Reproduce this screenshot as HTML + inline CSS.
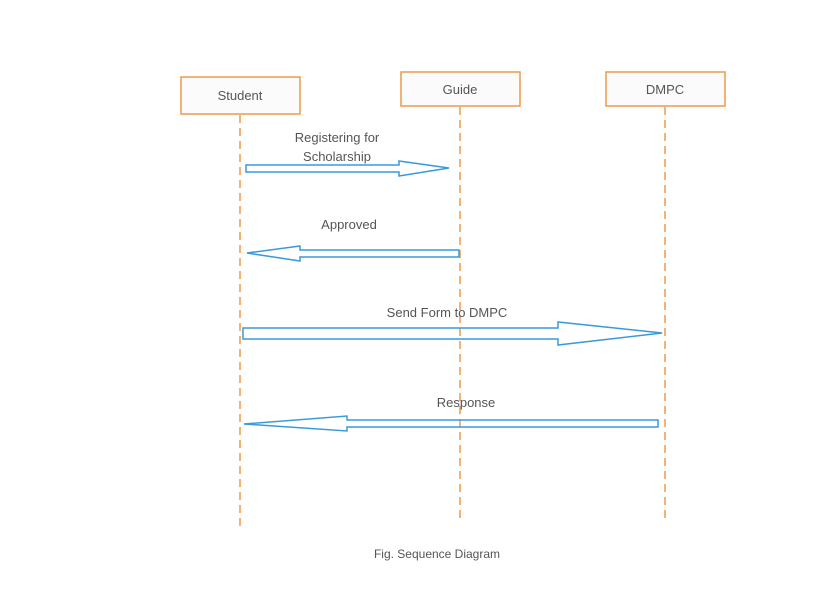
<!DOCTYPE html>
<html><head><style>
body{margin:0;background:#fff;}
svg text{font-family:"Liberation Sans",sans-serif;fill:#555;font-size:13px;}
</style></head><body>
<svg width="836" height="586" viewBox="0 0 836 586" xmlns="http://www.w3.org/2000/svg">
<g stroke="#ef9a4a" stroke-width="1.5" stroke-dasharray="8,5" fill="none">
<line x1="240" y1="115" x2="240" y2="527"/>
<line x1="460" y1="107" x2="460" y2="522"/>
<line x1="665" y1="107" x2="665" y2="522"/>
</g>
<g stroke="#ef9a4a" stroke-width="1.5" fill="#fbfbfb">
<rect x="181" y="77" width="119" height="37"/>
<rect x="401" y="72" width="119" height="34"/>
<rect x="606" y="72" width="119" height="34"/>
</g>
<text x="240" y="100" text-anchor="middle">Student</text>
<text x="460" y="94" text-anchor="middle">Guide</text>
<text x="665" y="94" text-anchor="middle">DMPC</text>
<g stroke="#3a9ad9" stroke-width="1.5" fill="none">
<polygon points="246,165 399,165 399,161 449,168 399,176 399,172 246,172"/>
<polygon points="459,250 300,250 300,246 247,253 300,261 300,257 459,257"/>
<polygon points="243,328 558,328 558,322 662,333 558,345 558,339 243,339"/>
<polygon points="658,420 347,420 347,416 244,424 347,431 347,427 658,427"/>
</g>
<text x="337" y="142" text-anchor="middle">Registering for</text>
<text x="337" y="161" text-anchor="middle">Scholarship</text>
<text x="349" y="229" text-anchor="middle">Approved</text>
<text x="447" y="317" text-anchor="middle">Send Form to DMPC</text>
<text x="466" y="407" text-anchor="middle">Response</text>
<text x="437" y="558" text-anchor="middle" style="font-size:12px">Fig. Sequence Diagram</text>
</svg>
</body></html>
